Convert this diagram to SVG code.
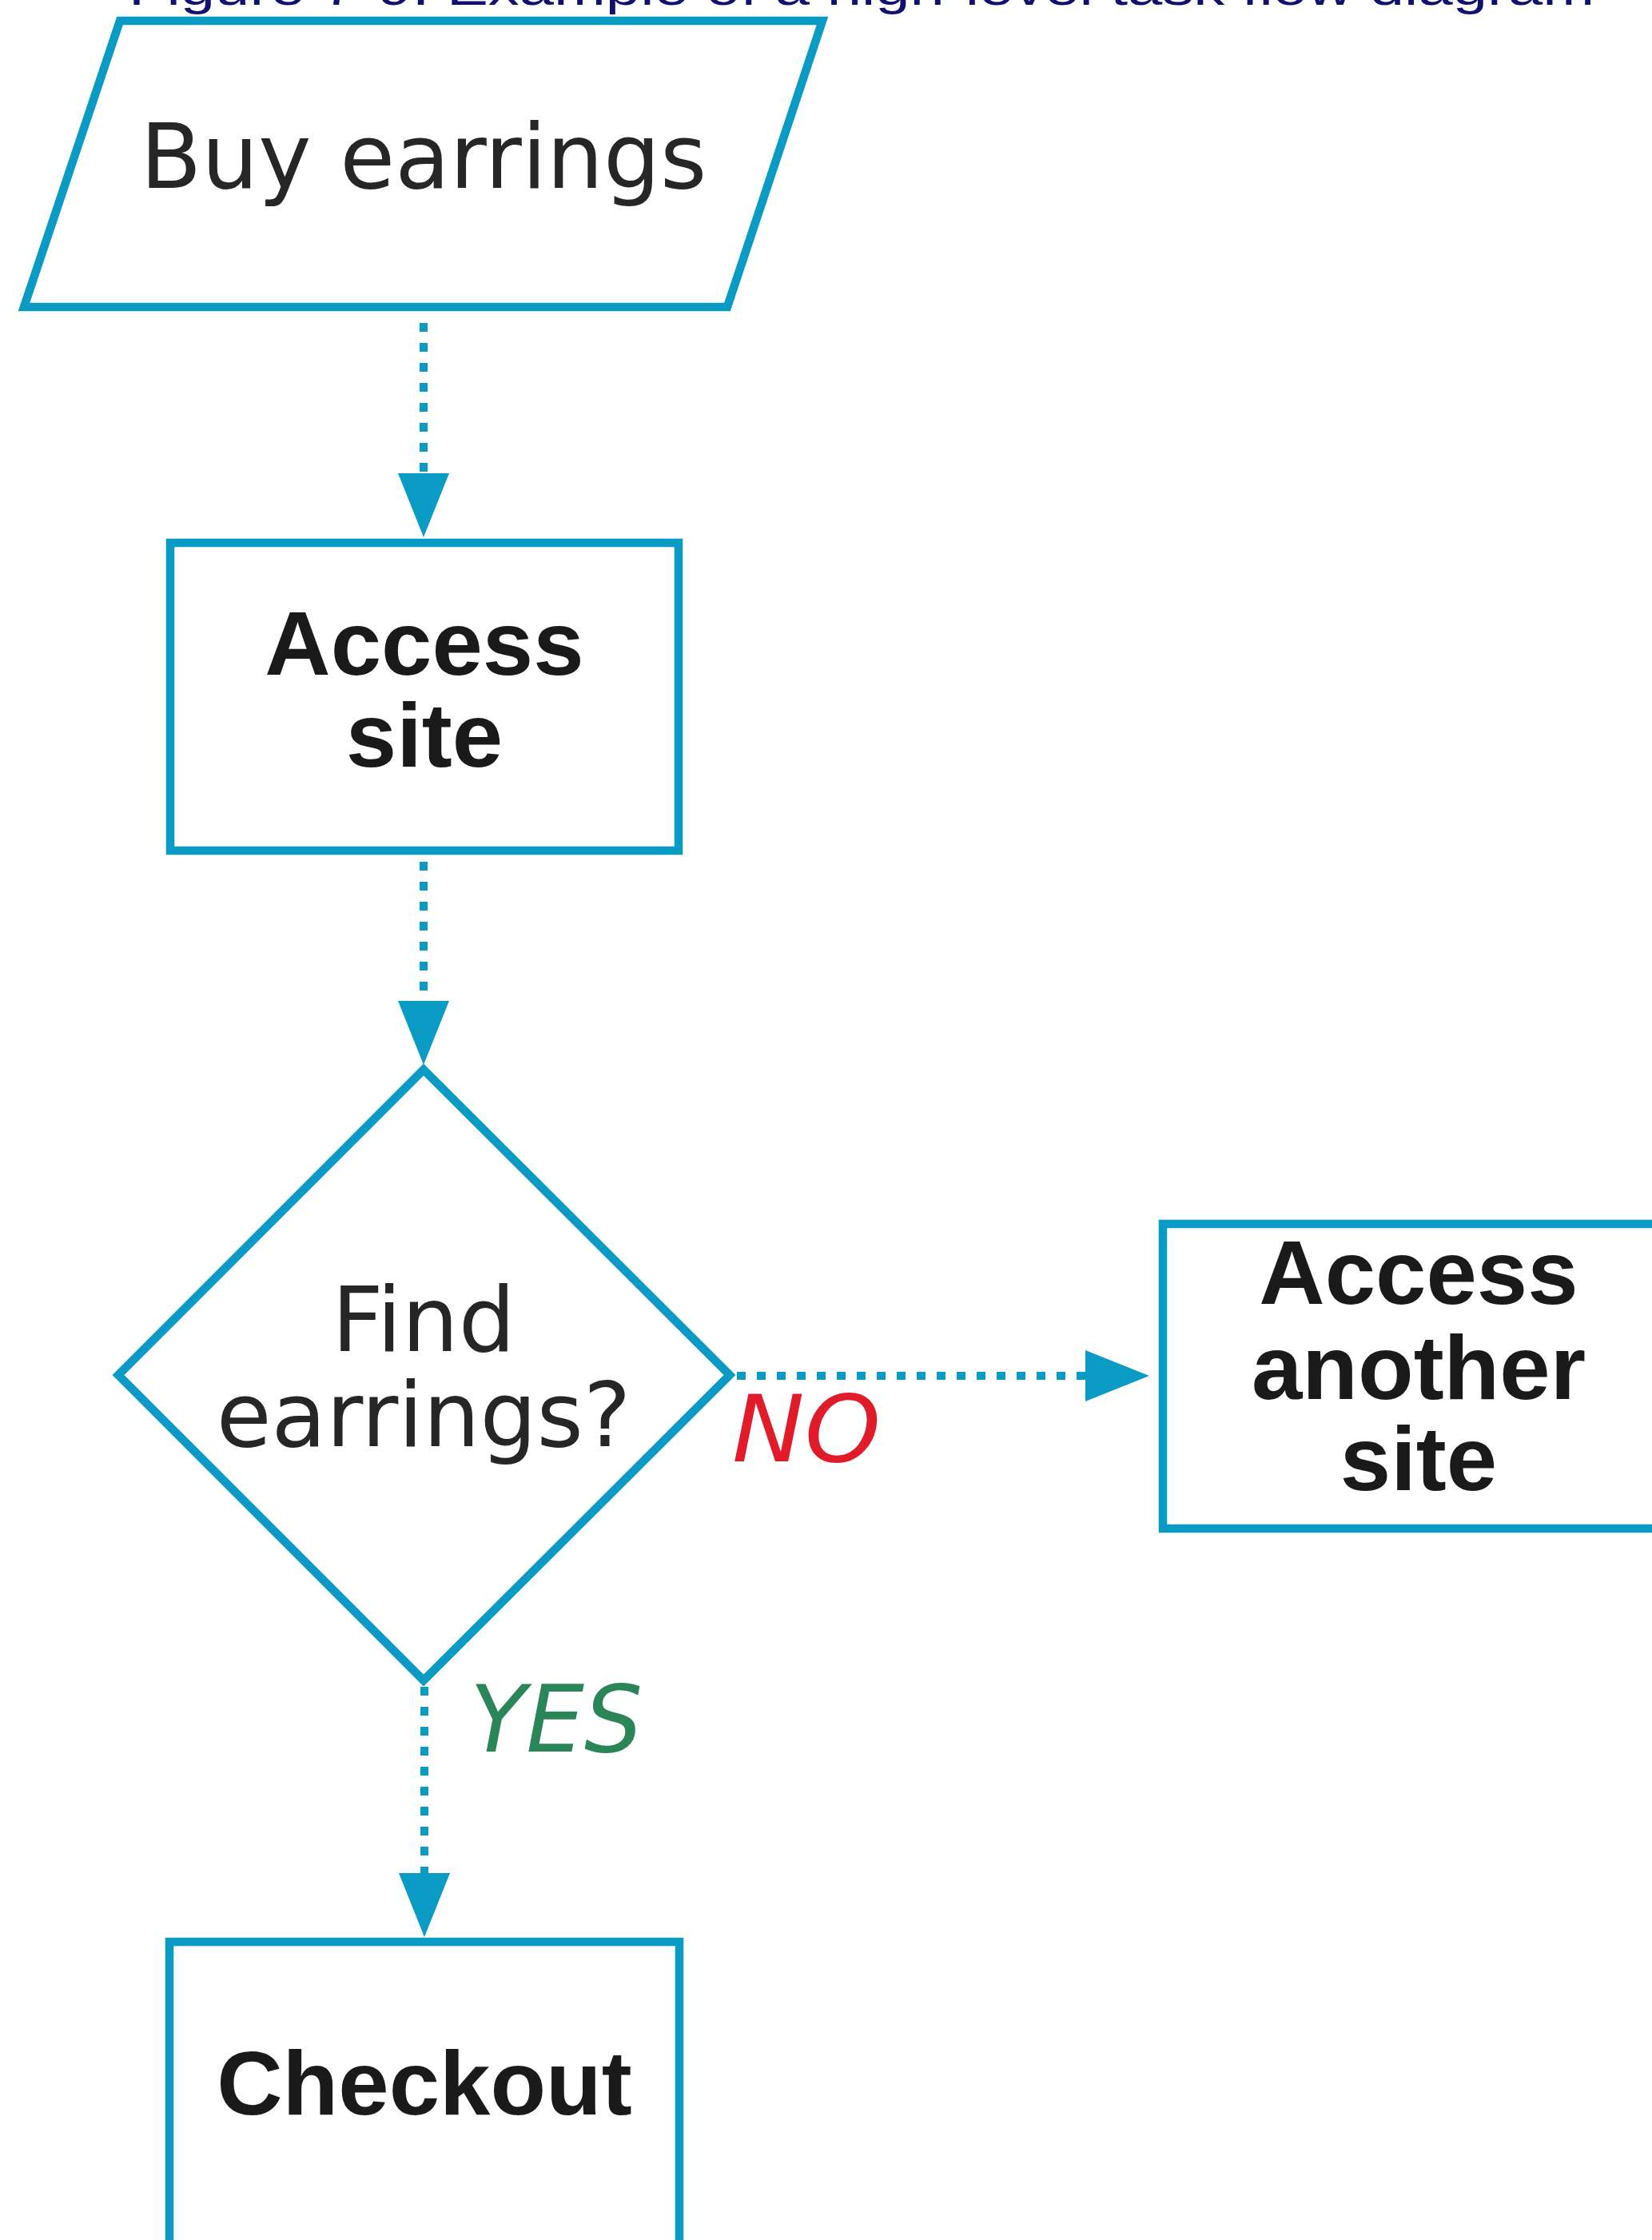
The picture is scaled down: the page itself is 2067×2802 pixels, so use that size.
<svg xmlns="http://www.w3.org/2000/svg" width="2067" height="2802" viewBox="0 0 2067 2802">
<style>
.shape{fill:#ffffff;stroke:#0a9bc5;stroke-width:10.5;stroke-linejoin:miter}
.conn{fill:none;stroke:#0a9bc5;stroke-width:10;stroke-dasharray:11 14}
.reg{font-family:"DejaVu Sans",sans-serif;font-size:112px;fill:#262626;text-anchor:middle}
.bold{font-family:"Liberation Sans",Arial,sans-serif;font-weight:bold;font-size:114px;fill:#1a1a1a;text-anchor:middle}
.lbl{font-family:"DejaVu Sans",sans-serif;font-style:italic;font-size:115px}
.cap{font-family:"Liberation Sans",Arial,sans-serif;font-size:60px;fill:#10106e}
</style>
<defs>
<marker id="arrow" markerUnits="userSpaceOnUse" viewBox="0 0 80 64" refX="10" refY="32" markerWidth="80" markerHeight="64" orient="auto">
<path d="M0,0 L80,32 L0,64 Z" fill="#0a9bc5"/>
</marker>
</defs>
<rect width="2067" height="2802" fill="#ffffff"/>
<text class="cap" x="161" y="6" textLength="1834" lengthAdjust="spacingAndGlyphs">Figure 7-9: Example of a high-level task flow diagram</text>
<g id="connectors">
<path class="conn" d="M530,404 L530,602" marker-end="url(#arrow)"/>
<path class="conn" d="M530,1078 L530,1262" marker-end="url(#arrow)"/>
<path class="conn" d="M922,1721 L1368,1721" marker-end="url(#arrow)"/>
<path class="conn" d="M531,2110 L531,2353" marker-end="url(#arrow)"/>
</g>
<g id="node-buy">
<polygon class="shape" points="150,26 1029,26 910,384 30,384"/>
<text class="reg" x="530" y="235">Buy earrings</text>
</g>
<g id="node-access-site">
<rect class="shape" x="213" y="679" width="636" height="385"/>
<text class="bold" x="531" y="844">Access</text>
<text class="bold" x="531" y="959">site</text>
</g>
<g id="node-find">
<polygon class="shape" points="530,1338 913,1720 530,2102 148,1720"/>
<text class="reg" x="530" y="1690">Find</text>
<text class="reg" x="530" y="1809">earrings?</text>
</g>
<g id="node-another">
<rect class="shape" x="1455" y="1531" width="700" height="381"/>
<text class="bold" x="1775" y="1631">Access</text>
<text class="bold" x="1775" y="1750">another</text>
<text class="bold" x="1775" y="1864">site</text>
</g>
<g id="node-checkout">
<rect class="shape" x="212" y="2429" width="638" height="500"/>
<text class="bold" x="531" y="2645">Checkout</text>
</g>
<g id="labels">
<text class="lbl" x="916" y="1828" fill="#e01b2a" textLength="186" lengthAdjust="spacingAndGlyphs">NO</text>
<text class="lbl" x="588" y="2191" fill="#2a8658">YES</text>
</g>
</svg>
